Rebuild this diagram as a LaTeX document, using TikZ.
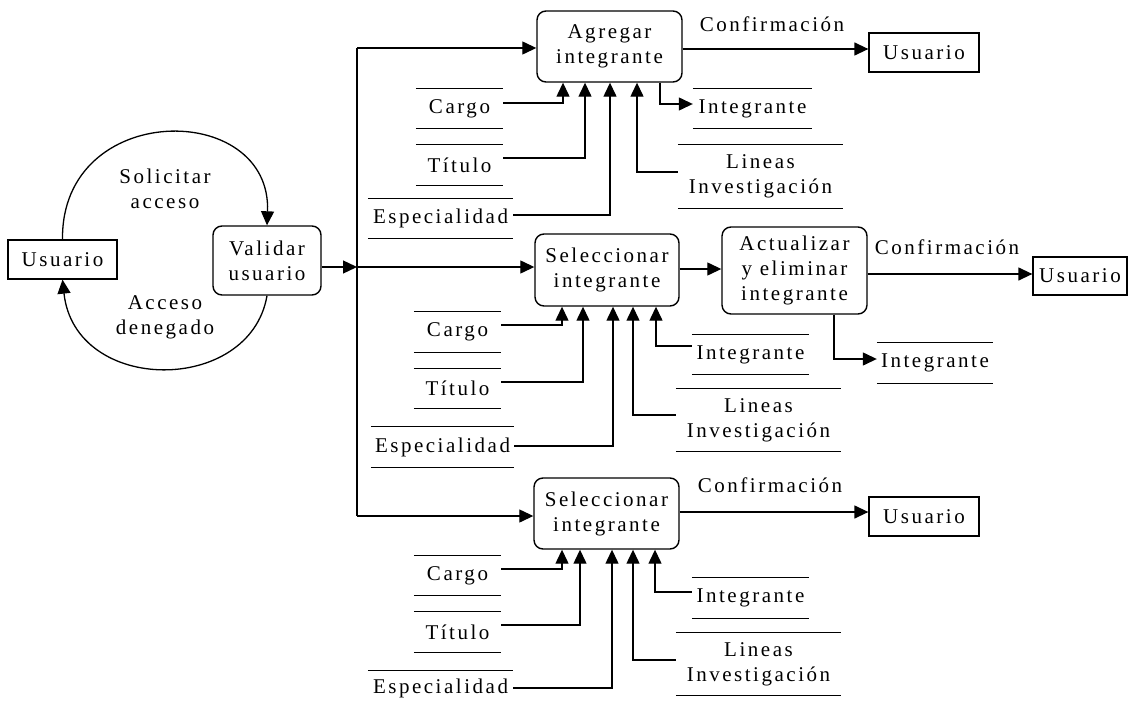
\documentclass[tikz,border=0pt]{standalone}
\usepackage{fontspec}
\setmainfont{Liberation Serif}[LetterSpace=12]
\usetikzlibrary{arrows.meta}

\tikzset{
  base/.style={font=\fontsize{21}{25}\selectfont, inner sep=0pt},
  proc/.style={base, draw, rounded corners=9pt, line width=1.4pt, align=center},
  ent/.style={base, draw, line width=1.3pt},
  lbl/.style={base, align=center},
  storeline/.style={draw, -, line width=1.3pt},
  store/.style={base, align=center,
    append after command={
      (\tikzlastnode.north west) edge[storeline] (\tikzlastnode.north east)
      (\tikzlastnode.south west) edge[storeline] (\tikzlastnode.south east)}},
  storetop/.style={base, align=center,
    append after command={
      (\tikzlastnode.north west) edge[storeline] (\tikzlastnode.north east)}},
  line/.style={line width=1.3pt},
  flow/.style={line, -{Triangle[length=14pt,width=13pt]}}
}

\begin{document}
\begin{tikzpicture}[x=1pt,y=-1pt]
\useasboundingbox (0,0) rectangle (1131,706);

% external entities
\node[ent, minimum width=109, minimum height=39] (u0) at (62.5,259.5) {Usuario};
\node[ent, minimum width=110, minimum height=39] (u1) at (924,52.5) {Usuario};
\node[ent, minimum width=94, minimum height=38] (u2) at (1080,276) {Usuario};
\node[ent, minimum width=110, minimum height=39] (u3) at (924,516.5) {Usuario};

% processes
\node[proc, minimum width=108, minimum height=69] (val) at (267,260.5) {Validar\\usuario};
\node[proc, minimum width=145, minimum height=71] (agr) at (609.5,46.5) {Agregar\\integrante};
\node[proc, minimum width=144, minimum height=72] (sel1) at (607,270) {Seleccionar\\integrante};
\node[proc, minimum width=145, minimum height=87] (act) at (794.5,270.5) {Actualizar\\y eliminar\\integrante};
\node[proc, minimum width=145, minimum height=71] (sel2) at (606.5,513.5) {Seleccionar\\integrante};

% data stores: add member
\node[store, minimum width=87, minimum height=39] (cA) at (459.5,108.5) {Cargo};
\node[store, minimum width=87, minimum height=40] (tA) at (459.5,165) {Título};
\node[store, minimum width=145, minimum height=39] (eA) at (440.5,218.5) {Especialidad};
\node[store, minimum width=119, minimum height=39] (iA) at (752.5,108.5) {Integrante};
\node[store, minimum width=165, minimum height=63] (lA) at (760.5,176.5) {Lineas\\Investigación};

% data stores: select / update member
\node[store, minimum width=87, minimum height=40] (cB) at (457.5,332) {Cargo};
\node[store, minimum width=87, minimum height=39] (tB) at (457.5,388.5) {Título};
\node[store, minimum width=143, minimum height=40] (eB) at (442.5,447) {Especialidad};
\node[store, minimum width=117, minimum height=39] (iB) at (750.5,354.5) {Integrante};
\node[store, minimum width=165, minimum height=62] (lB) at (758.5,420) {Lineas\\Investigación};
\node[store, minimum width=116, minimum height=40] (iC) at (935,363) {Integrante};

% data stores: select member
\node[store, minimum width=87, minimum height=39] (cD) at (457.5,575.5) {Cargo};
\node[store, minimum width=87, minimum height=40] (tD) at (457.5,632) {Título};
\node[storetop, minimum width=145, minimum height=34] (eD) at (440.5,688) {Especialidad};
\node[store, minimum width=117, minimum height=40] (iD) at (750.5,598) {Integrante};
\node[store, minimum width=165, minimum height=62] (lD) at (758.5,664) {Lineas\\Investigación};

% labels
\node[lbl] (solicitar) at (165,188.5) {Solicitar\\acceso};
\node[lbl] (denegado) at (165,317.5) {Acceso\\denegado};
\node[lbl] (conf1) at (772,24) {Confirmación};
\node[lbl] (conf2) at (947,247) {Confirmación};
\node[lbl] (conf3) at (770,485) {Confirmación};

% access loop
\draw[flow] (u0.north) .. controls (61,100) and (272,100) .. (val.north);
\draw[flow] (val.south) .. controls (250,395) and (75,395) .. (u0.south);

% distribution bus
\coordinate (busA) at (357,48);
\coordinate (busB) at (357,267);
\coordinate (busC) at (357,516);
\draw[flow] (val.east |- busB) -- (busB);
\draw[line] (busA) -- (busC);
\draw[flow] (busA) -- (agr.west |- busA);
\draw[flow] (busB) -- (sel1.west |- busB);
\draw[flow] (busC) -- (sel2.west |- busC);

% outputs to the user
\draw[flow] (agr.east |- 0,49) -- (u1.west |- 0,49);
\draw[flow] (sel1.east |- 0,269) -- (act.west |- 0,269);
\draw[flow] (act.east |- 0,274) -- (u2.west |- 0,274);
\draw[flow] (sel2.east |- 0,512) -- (u3.west |- 0,512);

% add member flows
\draw[flow] (cA.east |- 0,103) -| (agr.south -| 563,0);
\draw[flow] (tA.east |- 0,158) -| (agr.south -| 585,0);
\draw[flow] (eA.east |- 0,215) -| (agr.south -| 610,0);
\draw[flow] (lA.west |- 0,172) -| (agr.south -| 637,0);
\draw[flow] (agr.south -| 660,0) |- (iA.west |- 0,104);

% select / update member flows
\draw[flow] (cB.east |- 0,325) -| (sel1.south -| 562,0);
\draw[flow] (tB.east |- 0,382) -| (sel1.south -| 583,0);
\draw[flow] (eB.east |- 0,446) -| (sel1.south -| 613,0);
\draw[flow] (lB.west |- 0,415) -| (sel1.south -| 633,0);
\draw[flow] (iB.west |- 0,346) -| (sel1.south -| 656,0);
\draw[flow] (act.south -| 834,0) |- (iC.west |- 0,359);

% select member flows
\draw[flow] (cD.east |- 0,569) -| (sel2.south -| 562,0);
\draw[flow] (tD.east |- 0,625) -| (sel2.south -| 580,0);
\draw[flow] (eD.east |- 0,688) -| (sel2.south -| 612,0);
\draw[flow] (lD.west |- 0,660) -| (sel2.south -| 633,0);
\draw[flow] (iD.west |- 0,592) -| (sel2.south -| 655,0);
\end{tikzpicture}
\end{document}
